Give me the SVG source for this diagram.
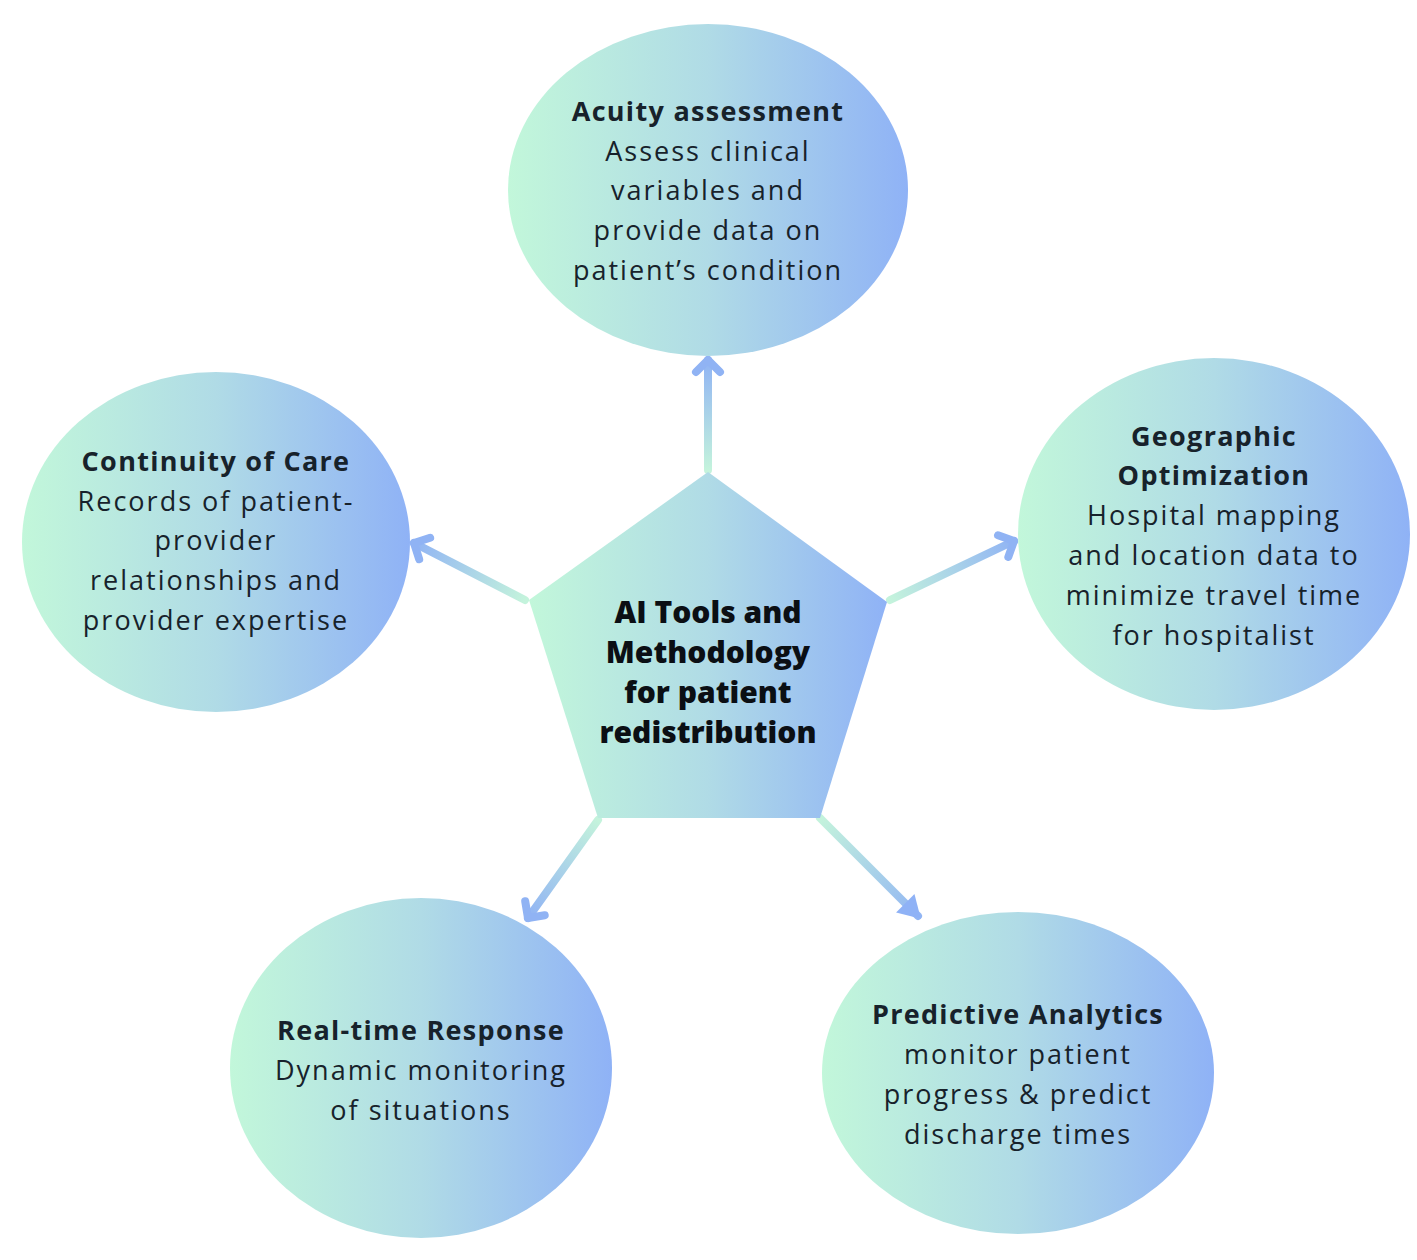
<svg xmlns="http://www.w3.org/2000/svg" width="1417" height="1260" viewBox="0 0 1417 1260">
<style>
.h{font-family:"Open Sans","Liberation Sans",sans-serif;font-weight:700;font-size:27px;letter-spacing:1.3px;fill:#17222b;text-anchor:middle}
.b{font-family:"Open Sans","Liberation Sans",sans-serif;font-weight:400;font-size:27px;letter-spacing:2px;fill:#17222b;text-anchor:middle}
.c{font-family:"Open Sans","Liberation Sans",sans-serif;font-weight:800;font-size:30px;fill:#0b0f14;text-anchor:middle}
.arr{fill:none;stroke-width:8;stroke-linecap:round}
</style>
<defs>
<linearGradient id="g" x1="0" y1="0" x2="1" y2="0">
<stop offset="0" stop-color="#c2f7da"/>
<stop offset="0.5" stop-color="#b0dbe6"/>
<stop offset="1" stop-color="#8fb2f6"/>
</linearGradient>
<linearGradient id="aT" gradientUnits="userSpaceOnUse" x1="708" y1="470" x2="708" y2="360"><stop offset="0" stop-color="#c4f3dc"/><stop offset="1" stop-color="#90b3f4"/></linearGradient>
<linearGradient id="aL" gradientUnits="userSpaceOnUse" x1="525" y1="600" x2="412" y2="542"><stop offset="0" stop-color="#c4f3dc"/><stop offset="1" stop-color="#90b3f4"/></linearGradient>
<linearGradient id="aR" gradientUnits="userSpaceOnUse" x1="890" y1="600" x2="1015" y2="540"><stop offset="0" stop-color="#c4f3dc"/><stop offset="1" stop-color="#90b3f4"/></linearGradient>
<linearGradient id="aBL" gradientUnits="userSpaceOnUse" x1="598" y1="820" x2="528" y2="918"><stop offset="0" stop-color="#c4f3dc"/><stop offset="1" stop-color="#90b3f4"/></linearGradient>
<linearGradient id="aBR" gradientUnits="userSpaceOnUse" x1="820" y1="818" x2="922" y2="922"><stop offset="0" stop-color="#c4f3dc"/><stop offset="1" stop-color="#90b3f4"/></linearGradient>
<marker id="chev" markerUnits="userSpaceOnUse" markerWidth="40" markerHeight="40" viewBox="-20 -20 40 40" refX="0" refY="0" orient="auto">
<path d="M-12,-12 L0,0 L-12,12" fill="none" stroke="#90b3f4" stroke-width="8" stroke-linecap="round" stroke-linejoin="round"/>
</marker>
<marker id="tri" markerUnits="userSpaceOnUse" markerWidth="40" markerHeight="40" viewBox="-20 -20 40 40" refX="0" refY="0" orient="auto">
<path d="M-18,-13 L4,0 L-18,13 Z" fill="#8fb2f6"/>
</marker>
</defs>
<rect width="1417" height="1260" fill="#ffffff"/>
<g id="connectors">
<line class="arr" x1="708" y1="470" x2="708" y2="360" stroke="url(#aT)" marker-end="url(#chev)"/>
<line class="arr" x1="525" y1="600" x2="414" y2="543" stroke="url(#aL)" marker-end="url(#chev)"/>
<line class="arr" x1="890" y1="600" x2="1014" y2="541" stroke="url(#aR)" marker-end="url(#chev)"/>
<line class="arr" x1="598" y1="820" x2="528" y2="918" stroke="url(#aBL)" marker-end="url(#chev)"/>
<line class="arr" x1="820" y1="818" x2="918" y2="916" stroke="url(#aBR)" marker-end="url(#tri)"/>
</g>
<g id="center">
<polygon points="708,472 887,602 820,818 598,818 529,600" fill="url(#g)"/>
<text class="c" x="708" y="623">AI Tools and</text>
<text class="c" x="708" y="663">Methodology</text>
<text class="c" x="708" y="703">for patient</text>
<text class="c" x="708" y="743">redistribution</text>
</g>
<g id="acuity">
<ellipse cx="708" cy="190" rx="200" ry="166" fill="url(#g)"/>
<text class="h" x="708" y="121">Acuity assessment</text>
<text class="b" x="708" y="161">Assess clinical</text>
<text class="b" x="708" y="200">variables and</text>
<text class="b" x="708" y="240">provide data on</text>
<text class="b" x="708" y="280">patient’s condition</text>
</g>
<g id="continuity">
<ellipse cx="216" cy="542" rx="194" ry="170" fill="url(#g)"/>
<text class="h" x="216" y="471">Continuity of Care</text>
<text class="b" x="216" y="511">Records of patient-</text>
<text class="b" x="216" y="550">provider</text>
<text class="b" x="216" y="590">relationships and</text>
<text class="b" x="216" y="630">provider expertise</text>
</g>
<g id="geographic">
<ellipse cx="1214" cy="534" rx="196" ry="176" fill="url(#g)"/>
<text class="h" x="1214" y="446">Geographic</text>
<text class="h" x="1214" y="485">Optimization</text>
<text class="b" x="1214" y="525">Hospital mapping</text>
<text class="b" x="1214" y="565">and location data to</text>
<text class="b" x="1214" y="605">minimize travel time</text>
<text class="b" x="1214" y="645">for hospitalist</text>
</g>
<g id="realtime">
<ellipse cx="421" cy="1068" rx="191" ry="170" fill="url(#g)"/>
<text class="h" x="421" y="1040">Real-time Response</text>
<text class="b" x="421" y="1080">Dynamic monitoring</text>
<text class="b" x="421" y="1120">of situations</text>
</g>
<g id="predictive">
<ellipse cx="1018" cy="1073" rx="196" ry="161" fill="url(#g)"/>
<text class="h" x="1018" y="1024">Predictive Analytics</text>
<text class="b" x="1018" y="1064">monitor patient</text>
<text class="b" x="1018" y="1104">progress &amp; predict</text>
<text class="b" x="1018" y="1144">discharge times</text>
</g>
</svg>
